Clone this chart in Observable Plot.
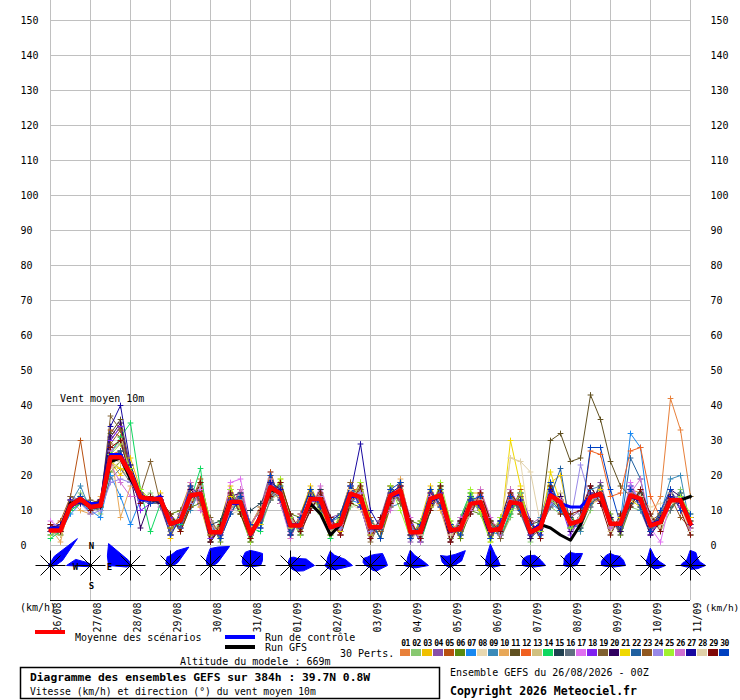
<!DOCTYPE html>
<html><head><meta charset="utf-8">
<script src="https://cdn.jsdelivr.net/npm/d3@7"></script>
<script src="https://cdn.jsdelivr.net/npm/@observablehq/plot@0.6"></script>
<style>body{margin:0;background:#fff}#chart svg{display:block}</style>
</head><body><div id="chart"></div>
<script>
const dateLabels = ["26/08","27/08","28/08","29/08","30/08","31/08","01/09","02/09","03/09","04/09","05/09","06/09","07/09","08/09","09/09","10/09","11/09"];
const yTicks = [0,10,20,30,40,50,60,70,80,90,100,110,120,130,140,150];
const pertLabels = ["01","02","03","04","05","06","07","08","09","10","11","12","13","14","15","16","17","18","19","20","21","22","23","24","25","26","27","28","29","30"];
const pertColors = ["#e8803a","#88c870","#f0c000","#8850a8","#b85010","#5a8a10","#1888f0","#e8d8b0","#3a8ab8","#e8a858","#605020","#f06020","#d0c080","#10d860","#204050","#607080","#e070f0","#8020f0","#806030","#300060","#f0d800","#2060a0","#905820","#9888e8","#a0f030","#d070d0","#1808a0","#e0d0a8","#800808","#0040c0"];

const meanRun = [4.3,4.3,11.4,13.3, 11,11.4,25.2,25.2, 20.5,13.8,13.3,13.3, 6.2,7.1,14.3,14.8, 3.8,3.8,12.4,12.4, 3.3,8,16.7,14.8, 5.7,5.7,13.3,13.3, 5.2,6.2,14.8,13.8, 5.2,5.2,14.3,15.7, 3.8,3.8,13.3,14.3, 4.3,4.8,11.9,12.4, 4.3,4.8,12.4,11.9, 3.8,5.2,14.3,12.4, 6.2,7.1,13.8,14.8, 6.2,6.2,14.3,13.3, 5.7,6.7,12.9,12.9, 6.2];
const controlRun = [5,5,11,13, 12,12,26,26, 20,13,13,14, 6,7,14,15, 4,4,12,12, 3,8,17,15, 6,6,13,13, 5,6,14,14, 5,5,14,15, 4,4,13,14, 4,5,12,12, 4,5,12,12, 4,6,15,12, 11,11,14,15, 6,6,14,13, 6,7,13,13, 6];
const gfsRun = [5,5,12,13, 11,11,24,25, 19,14,13,13, 6,7,14,15, 4,4,12,12, 3,8,16,15, 6,6,12,9, 3,6,14,14, 5,5,14,15, 4,4,13,14, 4,5,12,12, 4,5,12,12, 4,6,5,3, 1.5,6,14,15, 6,6,14,13, 6,7,13,13, 14];

const p01 = [3,5,12,14, 10,12,28,30, 22,15,12,14, 5,8,16,15, 3,5,13,12, 2,9,18,16, 5,7,12,14, 4,7,16,13, 4,6,13,17, 3,5,14,15, 5,4,11,13, 3,6,13,11, 3,4,15,13, 5,8,15,14, 7,5,16,15, 8,14,42,33, 14];
const p02 = [5,3,10,15, 12,9,22,27, 18,13,15,12, 9,4,11,18, 7,2,9,15, 6,5,13,17, 9,3,16,10, 8,3,11,17, 8,2,17,12, 7,1,10,17, 1,8,15,9, 7,2,8,16, 1,8,11,9, 9,4,10,18, 3,9,11,10, 9,4,10,16, 3];
const p03 = [4,6,13,12, 11,10,24,20, 25,16,12,15, 2,10,18,11, 1,7,17,9, 5,11,13,19, 2,9,17,11, 3,9,18,11, 7,2,17,13, 2,7,17,10, 6,2,15,15, 1,8,16,9, 5,4,18,20, 6,7,13,14, 5,6,15,12, 6,8,12,13, 7];
const p04 = [6,4,14,13, 9,12,30,34, 19,12,14,11, 3,9,17,12, 1,6,15,10, 6,11,21,12, 3,8,10,16, 8,9,18,11, 3,8,17,13, 1,6,11,17, 6,3,9,14, 2,7,14,9, 6,8,11,14, 8,10,11,18, 8,3,17,10, 3,9,16,10, 8];
const p05 = [5,7,14,30, 12,13,33,31, 20,15,12,14, 8,4,12,19, 6,2,10,16, 5,6,21,12, 8,3,11,16, 7,3,13,18, 8,2,11,18, 7,2,11,17, 2,7,10,16, 7,2,9,16, 4,5,14,11, 7,6,14,15, 6,7,13,14, 6,6,13,12, 6];
const p06 = [4,3,10,12, 12,11,21,24, 23,14,13,12, 9,10,11,12, 7,1,14,9, 1,9,13,18, 9,8,11,10, 8,3,12,11, 7,2,12,18, 7,6,11,16, 7,2,10,9, 2,8,10,15, 7,2,17,10, 9,4,17,12, 9,3,11,16, 4,10,10,15, 3];
const p07 = [3,4,9,12, 10,8,20,14, 6,13,12,13, 6,6,14,13, 3,4,11,13, 3,8,16,14, 5,6,11,13, 4,6,13,12, 4,4,13,15, 3,4,12,13, 5,4,11,12, 4,3,13,11, 3,5,12,10, 6,5,13,14, 5,7,32,28, 5,7,13,12, 4];
const p08 = [4,5,11,13, 11,12,24,26, 19,14,12,13, 6,7,14,15, 4,4,9,10, 3,8,17,14, 6,6,13,13, 6,9,12,10, 6,5,14,14, 4,4,11,12, 4,5,13,12, 4,5,25,24, 4,6,14,12, 6,7,13,14, 7,6,12,13, 11,12,13,11, 4];
const p09 = [6,4,12,17, 10,11,27,30, 21,13,14,13, 3,9,10,16, 2,5,10,15, 6,10,13,18, 3,8,16,10, 7,8,12,16, 3,7,11,12, 7,1,16,11, 2,7,14,9, 7,2,10,15, 2,8,18,11, 8,4,16,17, 8,4,17,10, 4,9,19,20, 5];
const p10 = [5,1,13,10, 9,14,28,8, 17,15,13,12, 9,5,18,11, 2,7,16,9, 6,11,15,18, 3,9,15,10, 2,9,18,11, 3,7,11,19, 6,1,15,10, 1,8,14,10, 6,3,15,9, 4,6,13,12, 5,7,12,13, 6,7,13,14, 5,6,13,12, 7];
const p11 = [4,5,12,13, 12,13,32,36, 22,14,13,14, 6,7,14,16, 4,4,12,12, 3,8,18,16, 6,6,14,13, 5,6,15,14, 5,5,14,16, 4,4,13,14, 4,5,12,13, 4,5,13,12, 6,7,30,32, 24,25,43,36, 24,17,14,15, 6,8,14,13, 14];
const p12 = [5,6,13,12, 11,13,26,27, 20,14,13,13, 7,6,14,15, 3,5,12,13, 3,7,16,16, 7,5,12,14, 4,6,16,16, 5,6,13,15, 3,5,12,15, 4,5,11,13, 5,4,12,13, 4,5,14,13, 5,7,27,26, 14,15,27,28, 14,8,13,12, 6];
const p13 = [4,3,11,14, 12,11,23,22, 19,13,12,14, 8,7,16,13, 5,6,10,11, 2,9,13,15, 8,5,12,15, 3,6,12,16, 7,5,17,13, 2,4,15,13, 6,4,9,14, 5,7,11,10, 6,5,13,15, 7,5,12,17, 4,8,16,11, 8,5,12,15, 5];
const p14 = [2,4,10,12, 11,12,26,31, 35,16,4,12, 5,6,13,22, 1,7,14,9, 5,4,18,12, 8,3,15,10, 2,8,17,11, 7,2,16,12, 6,1,10,17, 2,8,15,10, 7,3,9,15, 4,6,15,12, 5,7,13,14, 6,7,14,13, 5,6,13,12, 8];
const p15 = [5,5,12,13, 10,12,24,27, 19,14,13,12, 9,5,12,18, 6,7,16,10, 10,12,17,15, 4,8,11,16, 3,8,17,12, 7,4,12,18, 2,7,11,16, 6,3,14,10, 3,7,11,14, 2,7,13,10, 8,5,12,17, 8,4,12,15, 4,9,11,14, 8];
const p16 = [6,4,11,12, 11,10,19,22, 18,13,12,12, 4,9,11,16, 7,2,9,14, 6,6,13,16, 8,4,10,14, 8,4,12,15, 3,7,11,17, 6,2,10,15, 2,7,9,14, 6,3,14,9, 2,5,11,14, 4,9,11,16, 8,4,11,14, 4,9,10,14, 3];
const p17 = [7,5,12,13, 10,12,27,29, 21,15,13,14, 6,8,15,16, 4,4,18,19, 4,8,17,16, 6,6,13,14, 5,6,14,15, 5,5,14,17, 4,4,13,15, 4,5,12,13, 4,5,13,12, 4,5,15,12, 6,7,14,15, 6,6,18,12, 5,1,13,14, 6];
const p18 = [5,4,13,12, 12,11,30,34, 22,10,12,13, 8,5,15,13, 2,5,14,10, 5,5,18,13, 8,3,15,10, 7,4,16,11, 7,2,16,13, 6,1,15,12, 6,3,14,10, 3,7,10,15, 7,3,16,12, 3,8,15,12, 7,5,17,12, 3,8,14,11, 8];
const p19 = [5,5,14,12, 13,12,37,33, 21,15,24,12, 3,10,17,12, 8,2,11,16, 6,10,20,12, 3,9,16,10, 8,3,18,12, 1,7,17,12, 7,2,16,11, 2,7,10,15, 7,2,15,9, 5,4,14,12, 7,7,14,15, 6,6,15,14, 7,8,13,12, 7];
const p20 = [4,5,12,14, 11,13,31,35, 20,5,13,12, 3,8,16,13, 1,5,14,15, 1,9,18,14, 3,8,16,11, 7,9,17,11, 2,7,16,14, 2,6,15,12, 1,7,14,10, 2,7,16,10, 2,7,12,14, 4,8,17,12, 8,4,16,11, 3,7,16,14, 6];
const p21 = [5,5,12,13, 10,12,24,22, 21,15,13,14, 5,8,13,17, 3,5,14,11, 4,6,19,14, 5,7,11,14, 6,4,16,12, 3,6,12,17, 5,3,11,16, 3,6,13,10, 4,4,30,17, 4,5,21,12, 7,6,12,16, 5,8,13,11, 7,6,15,12, 8];
const p22 = [5,5,11,13, 11,12,25,27, 20,14,13,13, 7,5,15,14, 5,3,13,14, 4,7,15,17, 4,7,14,12, 6,5,17,13, 4,6,13,14, 5,2,12,16, 5,4,14,11, 3,6,11,13, 4,5,14,22, 5,8,12,14, 7,5,25,19, 5,8,12,15, 7];
const p23 = [4,4,11,12, 11,11,29,33, 21,14,12,13, 5,8,15,13, 3,6,11,14, 2,9,16,13, 7,5,15,12, 4,7,13,16, 6,4,15,13, 3,5,14,12, 5,4,13,11, 3,6,11,14, 5,4,13,13, 7,6,13,13, 5,7,16,12, 7,9,14,8, 5];
const p24 = [6,6,13,12, 9,10,18,19, 18,13,12,13, 6,7,12,17, 5,3,13,12, 3,8,14,16, 7,5,12,14, 6,5,13,15, 4,6,15,14, 5,3,12,13, 4,6,13,11, 5,4,11,13, 4,6,12,13, 7,23,13,14, 5,7,17,12, 7,6,15,13, 6];
const p25 = [3,5,12,13, 12,11,26,29, 22,16,13,13, 9,4,11,18, 7,2,16,10, 1,10,14,19, 8,3,16,9, 3,9,12,18, 7,2,17,10, 2,7,10,18, 7,3,16,9, 1,8,10,15, 5,4,13,11, 5,8,15,14, 7,5,13,14, 5,8,12,14, 9];
const p26 = [6,5,12,13, 11,12,23,18, 14,14,13,13, 3,9,18,10, 7,2,10,16, 6,10,19,12, 2,9,10,17, 8,3,17,11, 2,7,10,17, 8,1,14,11, 3,8,10,16, 8,3,16,10, 3,6,13,13, 7,6,15,14, 5,7,15,19, 7,6,14,12, 5];
const p27 = [5,6,13,12, 11,13,34,40, 23,15,13,14, 6,7,14,15, 4,3,13,13, 3,8,18,16, 6,5,14,13, 5,6,15,29, 10,5,15,17, 3,4,12,15, 4,5,13,11, 5,4,11,13, 3,5,16,11, 6,8,15,14, 7,5,13,14, 5,8,14,12, 6];
const p28 = [4,5,12,13, 11,12,22,24, 20,14,13,13, 6,8,13,15, 5,4,11,13, 3,9,16,14, 7,6,12,13, 4,6,16,14, 6,5,13,16, 4,3,13,14, 3,5,12,13, 4,5,25,24, 21,6,14,12, 6,8,13,15, 7,6,13,14, 6,6,12,13, 3];
const p29 = [6,4,12,13, 10,12,28,30, 19,12,14,13, 9,4,11,18, 1,6,15,9, 2,10,14,18, 9,4,10,15, 8,3,12,17, 2,8,12,17, 7,2,10,17, 1,7,9,15, 7,4,15,11, 7,2,17,9, 9,10,17,12, 3,9,11,16, 9,4,16,10, 3];
const p30 = [4,5,11,14, 12,11,25,26, 20,14,12,13, 3,8,17,14, 6,2,9,14, 6,5,20,13, 3,8,16,11, 7,9,17,11, 7,2,16,18, 2,6,16,11, 6,3,13,14, 2,7,14,10, 6,3,18,10, 6,7,28,28, 16,6,16,11, 4,10,16,10, 9];
const perts = [p01,p02,p03,p04,p05,p06,p07,p08,p09,p10,p11,p12,p13,p14,p15,p16,p17,p18,p19,p20,p21,p22,p23,p24,p25,p26,p27,p28,p29,p30];

// wind roses: radii (px) for N,NNE,NE,ENE,E,ESE,SE,SSE,S,SSW,SW,WSW,W,WNW,NW,NNW, one per day at 00Z
const roseRadii = [
 [3,10,38,13,5,2,1,0,0,0,1,2,3,2,2,2],
 [2,1,1,1,2,1,0,0,0,0,0,3,24,16,4,2],
 [2,1,0,0,0,0,0,0,0,0,0,4,22,25,31,6],
 [10,16,26,8,3,1,0,0,0,0,0,2,3,5,6,9],
 [17,20,27,8,3,1,0,0,0,0,0,1,3,4,6,9],
 [15,15,17,13,10,3,1,0,0,0,1,3,7,9,11,14],
 [8,9,10,17,24,14,8,4,2,1,1,1,2,2,3,5],
 [14,11,12,16,22,9,6,4,5,3,4,4,6,5,5,8],
 [10,12,17,16,17,10,8,5,3,2,2,3,5,8,10,9],
 [15,11,11,13,18,6,3,2,1,1,1,3,6,7,5,8],
 [10,12,21,12,4,2,1,1,3,2,2,3,5,9,14,10],
 [21,12,10,9,10,4,2,1,1,1,1,2,5,5,7,10],
 [10,11,11,12,15,4,2,1,1,1,1,3,8,9,10,10],
 [13,13,17,9,6,2,1,0,0,0,1,3,7,7,9,11],
 [12,11,13,14,15,4,2,1,0,0,1,3,9,10,10,11],
 [17,10,9,10,15,8,4,2,1,1,1,2,3,4,6,8],
 [15,14,10,10,15,8,5,4,4,2,2,4,10,8,6,8]
];

const hours = d3.range(0, 385, 6);
const dayTicks = d3.range(0, 385, 24);
const yMin = -110/7, yMax = 1090/7;
const pxX = 384/640, pxY = (yMax - yMin)/600;
const roseY = -20 * pxY;

const pertData = [];
perts.forEach((arr, j) => arr.forEach((v, i) => pertData.push({t: hours[i], v, id: j, c: pertColors[j]})));
const run = arr => arr.map((v, i) => ({t: hours[i], v}));

const rosePts = [];
roseRadii.forEach((rs, k) => rs.forEach((r, i) => {
  const a = i * Math.PI / 8;
  rosePts.push({k, x: 24*k + r*Math.sin(a)*pxX, y: roseY + r*Math.cos(a)*pxY});
}));
const spokes = [];
roseRadii.forEach((rs, k) => { for (let j = 0; j < 8; j++) {
  const a = j * Math.PI / 4, len = j % 2 ? 14 : 15;
  spokes.push({x1: 24*k, y1: roseY, x2: 24*k + len*Math.sin(a)*pxX, y2: roseY + len*Math.cos(a)*pxY});
}});
const roseCenters = roseRadii.map((r, k) => ({x: 24*k, y: roseY}));
const compass = [{s:"N",ox:1,oy:-19},{s:"W",ox:-15,oy:2},{s:"E",ox:19,oy:2},{s:"S",ox:1,oy:21}]
  .map(d => ({s: d.s, x: 24 + d.ox*pxX, y: roseY - d.oy*pxY}));

const svg = Plot.plot({
  width: 740, height: 700,
  marginLeft: 50, marginRight: 50, marginTop: 0, marginBottom: 100,
  x: {domain: [0, 384], label: null},
  y: {domain: [yMin, yMax], label: null},
  color: {type: "identity"},
  style: {fontFamily: "'DejaVu Sans Mono', monospace", fontSize: "10px", background: "#fff", color: "#000"},
  marks: [
    Plot.gridY(yTicks, {stroke: "#c0c0c0", strokeOpacity: 1}),
    Plot.gridX(dayTicks, {stroke: "#c0c0c0", strokeOpacity: 1}),
    Plot.ruleY([yMin], {stroke: "#000"}),
    Plot.axisY(yTicks, {anchor: "left", tickSize: 0, tickPadding: 0, textAnchor: "start", dx: -30}),
    Plot.axisY(yTicks, {anchor: "right", tickSize: 0, tickPadding: 20, textAnchor: "start"}),
    Plot.axisX(dayTicks, {anchor: "bottom", tickSize: 0, tickPadding: 2, tickRotate: -90, textAnchor: "end", lineAnchor: "middle", dx: 7, tickFormat: d => dateLabels[d/24]}),
    Plot.line(pertData, {x: "t", y: "v", z: "id", stroke: "c", strokeWidth: 1}),
    Plot.dot(pertData, {x: "t", y: "v", symbol: "plus", r: 2, stroke: "c", strokeWidth: 1}),
    Plot.line(run(gfsRun), {x: "t", y: "v", stroke: "#000", strokeWidth: 3}),
    Plot.line(run(controlRun), {x: "t", y: "v", stroke: "#0000ff", strokeWidth: 3}),
    Plot.line(run(meanRun), {x: "t", y: "v", stroke: "#ff0000", strokeWidth: 4.5}),
    Plot.line(rosePts, {x: "x", y: "y", z: "k", fill: "#0000ff", stroke: "#0000ff", strokeWidth: 1, curve: "linear-closed"}),
    Plot.link(spokes, {x1: "x1", y1: "y1", x2: "x2", y2: "y2", stroke: "#000", strokeWidth: 1}),
    Plot.dot(roseCenters, {x: "x", y: "y", r: 1.8, fill: "#000"}),
    Plot.text(compass, {x: "x", y: "y", text: "s", fontSize: 9, fontWeight: "bold"})
  ]
});
document.getElementById("chart").appendChild(svg);

// legend & captions
const g = d3.select(svg).append("g").attr("font-family", "'DejaVu Sans Mono', monospace").attr("font-size", 10).attr("fill", "#000").attr("text-anchor", "start");
function label(x, y, s, opt = {}) {
  const t = g.append("text").attr("x", x).attr("y", y).attr("dominant-baseline", "central").attr("text-anchor", "start").text(s);
  for (const k in opt) t.attr(k, opt[k]);
  return t;
}
label(60, 398, "Vent moyen 10m");
label(20, 607, "(km/h)");
label(705, 607, "(km/h)", {"font-size": 9.5});
g.append("rect").attr("x", 35).attr("y", 630).attr("width", 30).attr("height", 4).attr("fill", "#ff0000");
label(75, 637, "Moyenne des scénarios");
g.append("rect").attr("x", 225).attr("y", 635).attr("width", 30).attr("height", 4).attr("fill", "#0000ff");
label(265, 637, "Run de contrôle");
g.append("rect").attr("x", 225).attr("y", 645).attr("width", 30).attr("height", 4).attr("fill", "#000");
label(265, 647, "Run GFS");
label(340, 653, "30 Perts.");
label(180, 661, "Altitude du modele : 669m");
pertColors.forEach((c, i) => {
  g.append("rect").attr("x", 400 + 11*i).attr("y", 649).attr("width", 10).attr("height", 7).attr("fill", c);
  label(405.5 + 11*i, 643, pertLabels[i], {"text-anchor": "middle", "font-size": 8, "font-weight": "bold", "letter-spacing": -0.6});
});
g.append("rect").attr("x", 20.5).attr("y", 667.5).attr("width", 419).attr("height", 31).attr("fill", "none").attr("stroke", "#000").attr("stroke-width", 1.5);
label(30, 677, "Diagramme des ensembles GEFS sur 384h : 39.7N 0.8W", {"font-weight": "bold", "font-size": 11.3});
label(30, 691, "Vitesse (km/h) et direction (°) du vent moyen 10m", {"font-size": 9.7});
label(450, 672, "Ensemble GEFS du 26/08/2026 - 00Z");
label(450, 691, "Copyright 2026 Meteociel.fr", {"font-weight": "bold", "font-size": 11.5});
</script>
</body></html>
